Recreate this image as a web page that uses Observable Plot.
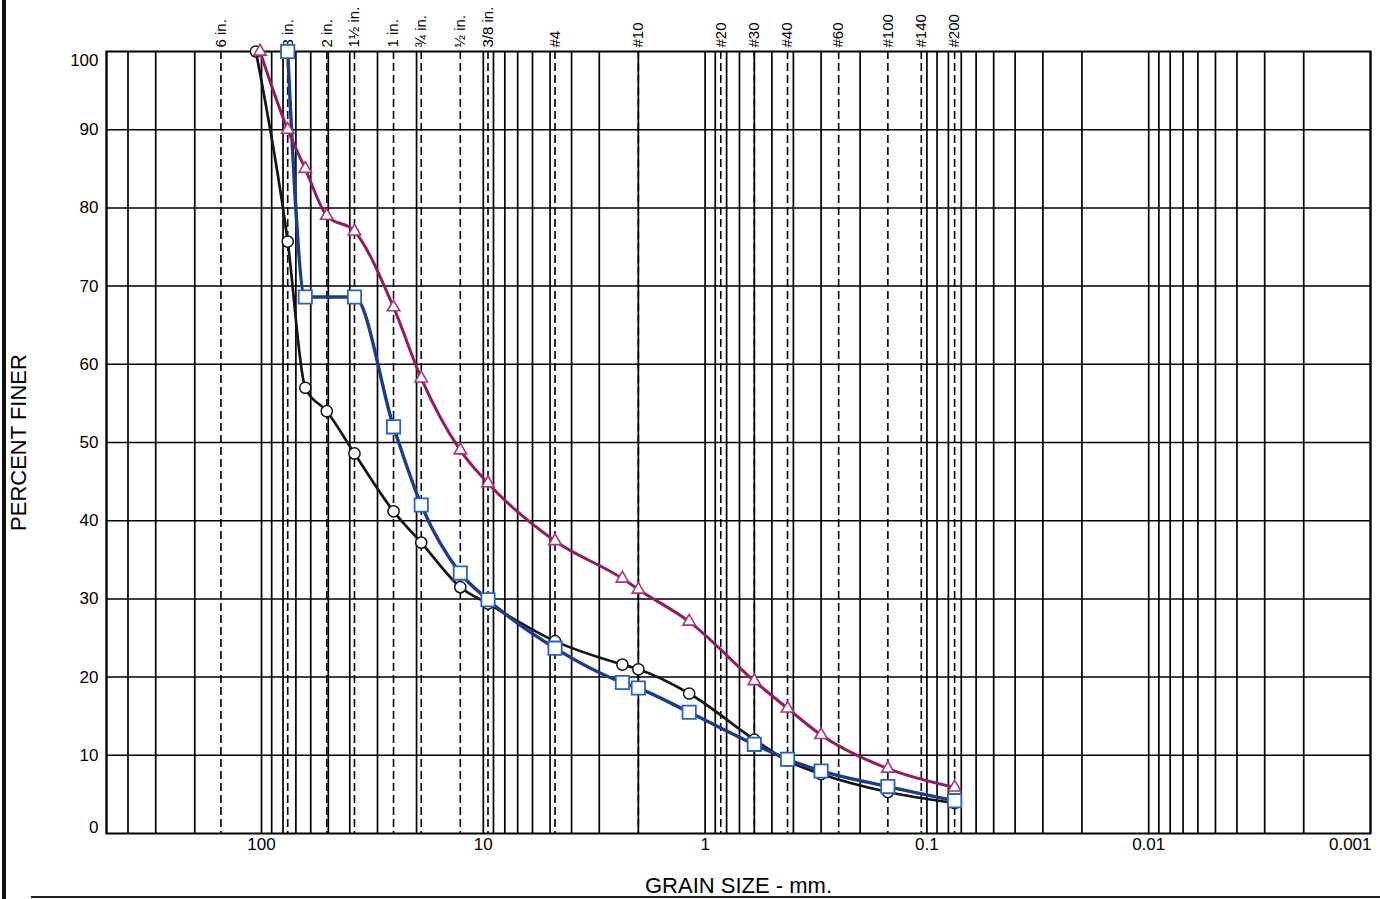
<!DOCTYPE html>
<html><head><meta charset="utf-8">
<script src="https://cdn.jsdelivr.net/npm/d3@7"></script>
<script src="https://cdn.jsdelivr.net/npm/@observablehq/plot@0.6"></script>
<style>
html,body{margin:0;padding:0;background:#fff;}
#wrap{position:relative;width:1380px;height:899px;overflow:hidden;}
#leftbar{position:absolute;left:2px;top:0;width:4px;height:899px;background:#111;}
#bottomline{position:absolute;left:31px;top:896px;width:1349px;height:2px;background:#222;}
svg{display:block}
</style></head><body>
<div id="wrap"><div id="chart"></div><div id="leftbar"></div><div id="bottomline"></div></div>
<script>
// Sieve openings (mm) and their labels (dashed lines)
const sieveSizes = [152.4, 76.2, 50.8, 38.1, 25.4, 19.05, 12.7, 9.525, 4.75, 2.0, 0.85, 0.6, 0.425, 0.25, 0.15, 0.106, 0.075];
const sieveLabels = ["6 in.", "3 in.", "2 in.", "1½ in.", "1 in.", "¾ in.", "½ in.", "3/8 in.", "#4", "#10", "#20", "#30", "#40", "#60", "#100", "#140", "#200"];

// Axis ticks
const xTickValues = [100, 10, 1, 0.1, 0.01];
const xTickLabels = ["100", "10", "1", "0.1", "0.01"];
const xLastTick = [0.001];
const xLastLabel = ["0.001"];
const yTicksMid = [10, 20, 30, 40, 50, 60, 70, 80, 90];
const yGrid = [10, 20, 30, 40, 50, 60, 70, 80, 90];

// Series 1: black circles
const circleSize = [106, 76.2, 63.5, 50.8, 38.1, 25.4, 19.05, 12.7, 9.525, 4.75, 2.36, 2.0, 1.18, 0.6, 0.425, 0.3, 0.15, 0.075];
const circlePct  = [100, 75.7, 57.0, 54.0, 48.6, 41.2, 37.2, 31.5, 29.4, 24.6, 21.6, 21.0, 17.9, 12.0, 9.3, 7.6, 5.3, 3.9];

// Series 2: blue squares
const squareSize = [76.2, 63.5, 38.1, 25.4, 19.05, 12.7, 9.525, 4.75, 2.36, 2.0, 1.18, 0.6, 0.425, 0.3, 0.15, 0.075];
const squarePct  = [100, 68.6, 68.6, 52.0, 42.0, 33.3, 29.9, 23.7, 19.3, 18.6, 15.5, 11.4, 9.5, 8.0, 6.0, 4.2];

// Series 3: magenta triangles
const triSize = [101.6, 76.2, 63.5, 50.8, 38.1, 25.4, 19.05, 12.7, 9.525, 4.75, 2.36, 2.0, 1.18, 0.6, 0.425, 0.3, 0.15, 0.075];
const triPct  = [100, 90.0, 85.0, 79.0, 77.0, 67.3, 58.2, 49.0, 44.8, 37.4, 32.6, 31.2, 27.1, 19.5, 16.0, 12.6, 8.3, 5.9];

const toRows = (xs, ys) => xs.map((x, i) => ({size: x, pct: ys[i]}));
const circles = toRows(circleSize, circlePct);
const squares = toRows(squareSize, squarePct);
const tris = toRows(triSize, triPct);

const FONT = "'Liberation Sans', Arial, Helvetica, sans-serif";

const chart = Plot.plot({
  width: 1380, height: 899,
  marginTop: 51, marginBottom: 66, marginLeft: 106, marginRight: 10,
  style: {fontFamily: FONT, background: "#fff", color: "#000", overflow: "visible"},
  x: {type: "log", domain: [500, 0.001], axis: null, label: null},
  y: {domain: [0, 100], axis: null, label: null},
  marks: [
    Plot.gridX({ticks: 60, stroke: "#000", strokeOpacity: 1, strokeWidth: 1.7}),
    Plot.gridY(yGrid, {stroke: "#000", strokeOpacity: 1, strokeWidth: 1.5}),
    Plot.ruleX(sieveSizes, {stroke: "#000", strokeWidth: 1.6, strokeDasharray: "8,4"}),
    Plot.frame({stroke: "#000", strokeWidth: 2}),
    Plot.axisY(yTicksMid, {label: null, tickSize: 0, tickPadding: 8, fontSize: 17, tickFormat: d => String(d)}),
    Plot.axisY([0], {label: null, tickSize: 0, tickPadding: 8, fontSize: 17, dy: -6, tickFormat: d => String(d)}),
    Plot.axisY([100], {label: null, tickSize: 0, tickPadding: 8, fontSize: 17, dy: 9, tickFormat: d => String(d)}),
    Plot.axisX(xTickValues, {label: null, tickSize: 0, tickPadding: 4, fontSize: 17, tickFormat: (d) => xTickLabels[xTickValues.indexOf(d)]}),
    Plot.axisX(xLastTick, {label: null, tickSize: 0, tickPadding: 4, fontSize: 17, textAnchor: "end", dx: 1, tickFormat: (d) => xLastLabel[xLastTick.indexOf(d)]}),
    Plot.text(sieveSizes, {x: d => d, frameAnchor: "top", text: (d, i) => sieveLabels[i], rotate: -90, textAnchor: "start", lineAnchor: "middle", dy: -4, fontSize: 15}),
    Plot.text(["PERCENT FINER"], {frameAnchor: "left", dx: -88, rotate: -90, textAnchor: "middle", lineAnchor: "middle", text: d => d, fontSize: 22}),
    Plot.text(["GRAIN SIZE - mm."], {frameAnchor: "bottom", dy: 52, textAnchor: "middle", lineAnchor: "middle", text: d => d, fontSize: 22}),
    Plot.line(circles, {x: "size", y: "pct", stroke: "#151515", strokeWidth: 2.7, curve: "monotone-x"}),
    Plot.dot(circles, {x: "size", y: "pct", symbol: "circle", r: 5.6, fill: "#fff", stroke: "#151515", strokeWidth: 1.5}),
    Plot.line(squares, {x: "size", y: "pct", stroke: "#1b3c8c", strokeWidth: 3.4, curve: "monotone-x"}),
    Plot.dot(squares, {x: "size", y: "pct", symbol: "square", r: 7.5, fill: "#fff", stroke: "#2a62c4", strokeWidth: 1.8}),
    Plot.line(tris, {x: "size", y: "pct", stroke: "#931d5c", strokeWidth: 3, curve: "monotone-x"}),
    Plot.dot(tris, {x: "size", y: "pct", symbol: "triangle", r: 4.6, fill: "#fff", stroke: "#ad3577", strokeWidth: 1.6})
  ]
});
document.getElementById("chart").appendChild(chart);
</script>
</body></html>
